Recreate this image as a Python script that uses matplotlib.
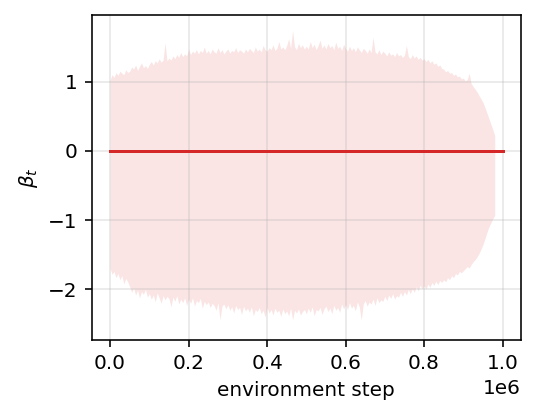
import matplotlib
matplotlib.use("Agg")
import matplotlib.pyplot as plt
import numpy as np

# logged every 5k env steps, band stops a bit before the end
band_steps = np.arange(0, 980001, 5000)

beta_upper = [
    1.02, 1.10, 1.06, 1.13, 1.09, 1.15, 1.12, 1.10, 1.17, 1.13,
    1.15, 1.21, 1.18, 1.24, 1.16, 1.22, 1.27, 1.20, 1.23, 1.19,
    1.25, 1.29, 1.24, 1.30, 1.27, 1.33, 1.28, 1.31, 1.56, 1.30,
    1.34, 1.31, 1.37, 1.33, 1.39, 1.35, 1.42, 1.36, 1.40, 1.37,
    1.47, 1.39, 1.44, 1.41, 1.46, 1.40, 1.45, 1.42, 1.50, 1.41,
    1.45, 1.40, 1.47, 1.43, 1.41, 1.49, 1.42, 1.46, 1.40, 1.44,
    1.47, 1.41, 1.45, 1.43, 1.49, 1.42, 1.46, 1.44, 1.41, 1.47,
    1.43, 1.48, 1.45, 1.42, 1.50, 1.44, 1.47, 1.43, 1.52, 1.46,
    1.44, 1.49, 1.46, 1.53, 1.45, 1.48, 1.58, 1.47, 1.50, 1.46,
    1.52, 1.62, 1.48, 1.74, 1.50, 1.46, 1.55, 1.49, 1.53, 1.47,
    1.51, 1.47, 1.58, 1.49, 1.54, 1.46, 1.52, 1.60, 1.48, 1.53,
    1.47, 1.55, 1.49, 1.52, 1.46, 1.57, 1.48, 1.51, 1.45, 1.54,
    1.48, 1.44, 1.51, 1.45, 1.49, 1.43, 1.50, 1.46, 1.42, 1.48,
    1.45, 1.41, 1.47, 1.42, 1.64, 1.43, 1.40, 1.46, 1.39, 1.44,
    1.41, 1.37, 1.43, 1.38, 1.40, 1.36, 1.42, 1.37, 1.39, 1.35,
    1.38, 1.52, 1.36, 1.33, 1.39, 1.34, 1.37, 1.32, 1.35, 1.31,
    1.33, 1.29, 1.32, 1.27, 1.30, 1.25, 1.27, 1.22, 1.24, 1.19,
    1.18, 1.14, 1.16, 1.12, 1.13, 1.09, 1.11, 1.07, 1.08, 1.04,
    1.05, 1.01, 1.03, 1.12, 0.97, 0.93, 0.89, 0.85, 0.80, 0.75,
    0.70, 0.63, 0.55, 0.47, 0.39, 0.31, 0.22,
]

beta_lower = [
    -1.70, -1.78, -1.74, -1.83, -1.77, -1.86, -1.80, -1.92, -1.84, -1.89,
    -1.96, -2.04, -1.98, -2.08, -2.01, -2.12, -2.03, -2.07, -2.00, -2.11,
    -2.06, -2.14, -2.08, -2.18, -2.05, -2.12, -2.20, -2.09, -2.15, -2.10,
    -2.13, -2.25, -2.11, -2.17, -2.09, -2.21, -2.14, -2.19, -2.12, -2.23,
    -2.14, -2.20, -2.12, -2.24, -2.16, -2.19, -2.13, -2.27, -2.17, -2.22,
    -2.18, -2.26, -2.20, -2.23, -2.30, -2.19, -2.44, -2.24, -2.21, -2.28,
    -2.22, -2.30, -2.25, -2.34, -2.23, -2.29, -2.26, -2.36, -2.24, -2.31,
    -2.27, -2.33, -2.25, -2.38, -2.29, -2.32, -2.26, -2.35, -2.30, -2.40,
    -2.26, -2.34, -2.29, -2.37, -2.27, -2.33, -2.30, -2.39, -2.28, -2.35,
    -2.31, -2.38, -2.27, -2.44, -2.30, -2.34, -2.28, -2.37, -2.32, -2.29,
    -2.35, -2.27, -2.33, -2.25, -2.38, -2.29, -2.31, -2.26, -2.36, -2.28,
    -2.24, -2.32, -2.27, -2.35, -2.23, -2.30, -2.26, -2.33, -2.21, -2.28,
    -2.22, -2.29, -2.19, -2.27, -2.23, -2.31, -2.18, -2.25, -2.44, -2.21,
    -2.16, -2.24, -2.18, -2.21, -2.14, -2.23, -2.12, -2.19, -2.15, -2.17,
    -2.10, -2.16, -2.08, -2.13, -2.06, -2.14, -2.09, -2.11, -2.04, -2.10,
    -2.03, -2.08, -2.00, -2.06, -1.99, -2.04, -1.96, -2.02, -1.94, -1.99,
    -1.95, -1.99, -1.92, -1.97, -1.90, -1.94, -1.88, -1.93, -1.87, -1.90,
    -1.86, -1.89, -1.83, -1.86, -1.80, -1.83, -1.77, -1.79, -1.74, -1.76,
    -1.73, -1.70, -1.67, -1.69, -1.64, -1.60, -1.57, -1.53, -1.48, -1.42,
    -1.35, -1.27, -1.18, -1.10, -1.04, -0.98, -0.93,
]

mean_steps = [0, 1000000]
beta_mean = [0.0, 0.0]


def main():
    fig = plt.figure(figsize=(536 / 144, 419 / 144), dpi=144)
    ax = fig.add_axes([0.171, 0.1885, 0.801, 0.7755])

    ax.fill_between(band_steps, beta_lower, beta_upper,
                    color='tab:red', alpha=0.12, linewidth=0)
    ax.plot(mean_steps, beta_mean, color='tab:red', lw=1.5)

    ax.set_xlim(-47000, 1047000)
    ax.set_ylim(-2.73, 1.96)
    ax.set_yticks([-2, -1, 0, 1])
    ax.grid(alpha=0.3)

    ax.set_xlabel('environment step')
    ax.set_ylabel(r'$\beta_t$')

    fig.savefig('out.png', dpi=144)


if __name__ == '__main__':
    main()
